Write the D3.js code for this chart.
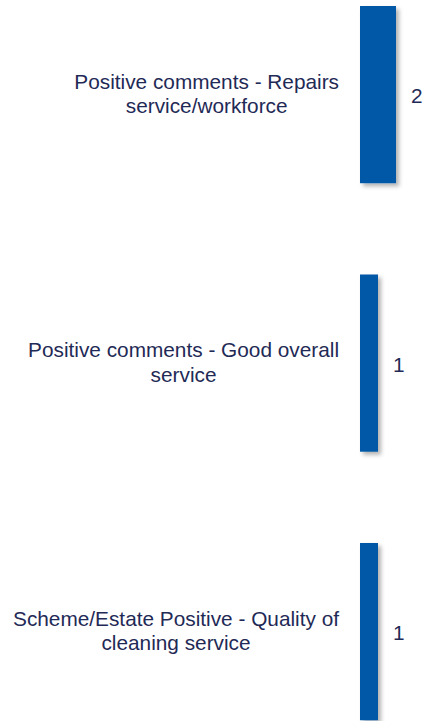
<!DOCTYPE html>
<html>
<head>
<meta charset="utf-8">
<script src="https://cdn.jsdelivr.net/npm/d3@7"></script>
<style>
  html, body { margin: 0; padding: 0; background: #fff; }
  svg { display: block; }
</style>
</head>
<body>
<script>
const categories = [
  "Positive comments - Repairs service/workforce",
  "Positive comments - Good overall service",
  "Scheme/Estate Positive - Quality of cleaning service"
];
const values = [2, 1, 1];

const W = 427, H = 721;
const fontSize = 20.8;
const textColor = "#1f2a56";
const barColor = "#0058a6";

const svg = d3.select("body").append("svg").attr("width", W).attr("height", H);

const defs = svg.append("defs");
const f = defs.append("filter").attr("id", "shadow")
  .attr("x", "-50%").attr("y", "-10%").attr("width", "200%").attr("height", "120%");
f.append("feDropShadow").attr("dx", 3).attr("dy", 3).attr("stdDeviation", 2.2)
  .attr("flood-color", "#000").attr("flood-opacity", 0.3);

const y = d3.scaleBand().domain(categories).range([6, 720.2]).paddingInner(0.34).paddingOuter(0);
const x = d3.scaleLinear().domain([0, 2]).range([360, 396]);

const data = categories.map((c, i) => ({ c, v: values[i] }));

svg.append("g").selectAll("rect").data(data).join("rect")
  .attr("x", x(0))
  .attr("y", d => y(d.c))
  .attr("width", d => x(d.v) - x(0))
  .attr("height", y.bandwidth())
  .attr("fill", barColor)
  .attr("filter", "url(#shadow)");

svg.append("g").selectAll("text").data(data).join("text")
  .attr("x", d => x(d.v) + 15)
  .attr("y", d => y(d.c) + y.bandwidth() / 2 + 1.5)
  .attr("dy", "0.35em")
  .attr("font-family", "Liberation Sans, Arial, sans-serif")
  .attr("font-size", fontSize)
  .attr("fill", textColor)
  .text(d => d.v);

// category labels: wrapped, lines centred within block, block right-aligned
const maxW = 335;
const rightEdge = 339;
const lineH = 24.5;
const measure = svg.append("text")
  .attr("font-family", "Liberation Sans, Arial, sans-serif")
  .attr("font-size", fontSize).attr("visibility", "hidden");
function tw(s) { measure.text(s); return measure.node().getComputedTextLength(); }

data.forEach(d => {
  const words = d.c.split(" ");
  const lines = [];
  let cur = "";
  words.forEach(w => {
    const t = cur ? cur + " " + w : w;
    if (tw(t) > maxW && cur) { lines.push(cur); cur = w; } else cur = t;
  });
  if (cur) lines.push(cur);
  const bw = d3.max(lines, tw);
  const cx = rightEdge - bw / 2;
  const cy = y(d.c) + y.bandwidth() / 2 - 0.8;
  const t = svg.append("text")
    .attr("font-family", "Liberation Sans, Arial, sans-serif")
    .attr("font-size", fontSize)
    .attr("fill", textColor)
    .attr("text-anchor", "middle");
  lines.forEach((l, i) => {
    t.append("tspan").attr("x", cx)
      .attr("y", cy + (i - (lines.length - 1) / 2) * lineH)
      .attr("dy", "0.35em")
      .text(l);
  });
});
measure.remove();
</script>
</body>
</html>
